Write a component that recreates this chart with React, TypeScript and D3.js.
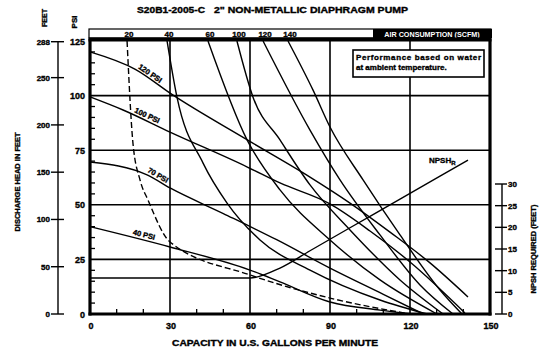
import React from "react";
import * as d3 from "d3";

// ---------- data ----------
const chartCode = "S20B1-2005-C";
const chartTitle = '2" NON-METALLIC DIAPHRAGM PUMP';
const xTitle = "CAPACITY IN U.S. GALLONS PER MINUTE";
const leftTitle = "DISCHARGE HEAD IN FEET";
const rightTitle = "NPSH REQUIRED (FEET)";
const noteLines = ["Performance based on water", "at ambient temperature."];
const airTitle = "AIR CONSUMPTION (SCFM)";

const flowTicks = [0, 30, 60, 90, 120, 150];
const flowMinorTicks = [10, 20, 40, 50, 70, 80, 100, 110, 130, 140];
const psiTicks = [0, 25, 50, 75, 100, 125];
const psiMinorTicks = [5, 10, 15, 20, 30, 35, 40, 45, 55, 60, 65, 70, 80, 85, 90, 95, 105, 110, 115, 120];
const feetTicks = [0, 50, 100, 150, 200, 250, 288];
const npshTicks = [0, 5, 10, 15, 20, 25, 30];

// head curves: [gpm, psi]
const pressureLabels = ["120 PSI", "100 PSI", "70 PSI", "40 PSI"];
const head120: [number, number][] = [[0, 120], [17, 112], [31, 100.3], [59, 79.7], [82.5, 62.7], [97.5, 50.8], [112.5, 37.5], [127.5, 23.4], [141.75, 7.8]];
const head100: [number, number][] = [[0, 99.4], [12.4, 93.4], [30, 83.3], [59, 67.3], [71.25, 60], [90, 50.4], [105, 38], [120, 23.8], [140.6, 0.5]];
const head70: [number, number][] = [[0, 69.6], [21.4, 63.7], [30, 57.7], [50, 46], [70, 34], [90, 21], [110, 9], [125, 0]];
const head40: [number, number][] = [[0, 40], [30, 30.7], [60, 20.1], [71.25, 14.7], [90, 5.5], [108.75, 1.8], [121, 0]];

// air consumption lines: [gpm, psi]
const airLabels = ["20", "40", "60", "100", "120", "140"];
const air20: [number, number][] = [[13.9, 125], [16.1, 78.3], [18.75, 61.4], [21.75, 52.2], [30, 33], [60, 17.9], [90, 7.3], [120, 0]];
const air40: [number, number][] = [[28.9, 125], [32.6, 99.4], [42.4, 69.1], [51.4, 50.8], [63.75, 33.9], [82.5, 20.1], [108.75, 6.4], [126.4, 0]];
const air60: [number, number][] = [[44.25, 125], [58.9, 79.7], [71.25, 56.8], [90, 33.9], [108.75, 15.6], [130.1, 0]];
const air100: [number, number][] = [[55.1, 125], [61.1, 99.4], [71.25, 79.7], [82.5, 59.1], [97.5, 38.5], [116.25, 15.6], [132.4, 0]];
const air120: [number, number][] = [[64.9, 125], [82.5, 84.2], [93.75, 61.4], [108.75, 36.2], [123.75, 13.3], [136.1, 0]];
const air140: [number, number][] = [[74.25, 125], [83.6, 102.6], [90, 85.6], [102.4, 61.4], [116.25, 36.2], [131.25, 11], [139.5, 0]];

// NPSH required: [gpm, feet]
const npshLabel = "NPSH";
const npsh: [number, number][] = [[0, 8.3], [60, 8.3], [71.25, 10.6], [82.5, 14.6], [97.5, 19.9], [116.25, 26.5], [131.25, 31.8], [141.75, 35.5]];

const headCurves = [head120, head100, head70, head40];
const airCurves = [air20, air40, air60, air100, air120, air140];

// ---------- layout ----------
const W = 540, H = 354;
const L = 90, R = 490, T = 41, B = 314;
const FONT = "'Liberation Sans', Arial, Helvetica, sans-serif";
const NARROW = "'Liberation Sans Narrow', 'Arial Narrow', 'Liberation Sans', sans-serif";

const x = d3.scaleLinear().domain([0, 150]).range([L, R]);
const yP = d3.scaleLinear().domain([0, 125]).range([B, T]);
const yF = d3.scaleLinear().domain([0, 288.75]).range([B, T]);
const yN = d3.scaleLinear().domain([0, 30]).range([B, 184]);

const lineP = d3.line<[number, number]>().x(d => x(d[0])).y(d => yP(d[1])).curve(d3.curveMonotoneX);
const lineN = d3.line<[number, number]>().x(d => x(d[0])).y(d => yN(d[1])).curve(d3.curveMonotoneX);

function labelAt(curve: [number, number][], g: number) {
  const i = d3.bisector((d: [number, number]) => d[0]).right(curve, g) - 1;
  const a = curve[Math.max(0, i)], b = curve[Math.min(curve.length - 1, i + 1)];
  const t = b[0] === a[0] ? 0 : (g - a[0]) / (b[0] - a[0]);
  const psi = a[1] + (b[1] - a[1]) * t;
  const ang = (Math.atan2(yP(b[1]) - yP(a[1]), x(b[0]) - x(a[0])) * 180) / Math.PI;
  return { px: x(g), py: yP(psi), ang };
}

const heavy = { stroke: "#000", strokeWidth: 0.35 } as const;

export default function App() {
  const labelFlows = [22, 21, 25, 20];
  return (
    <svg width={W} height={H} style={{ position: "absolute", left: 0, top: 0, background: "#fff" }} fontFamily={FONT} fontWeight="bold">
      <rect x={0} y={0} width={W} height={H} fill="#fff" />
      {/* title */}
      <text x={137} y={13} fontSize={8.8} textLength={68} lengthAdjust="spacingAndGlyphs" {...heavy}>{chartCode}</text>
      <text x={214} y={13} fontSize={8.8} textLength={194} lengthAdjust="spacingAndGlyphs" {...heavy}>{chartTitle}</text>

      {/* top band */}
      <rect x={L - 1} y={29} width={R - L + 2} height={9} fill="#fff" stroke="#000" strokeWidth={1.2} />
      <rect x={373} y={29} width={R - 373 + 2} height={9} fill="#000" />
      <text x={432} y={36.5} fontSize={7.2} fill="#fff" textAnchor="middle">{airTitle}</text>
      {airCurves.map((c, i) => (
        <text key={"al" + i} x={x(c[0][0]) + 2} y={36.6} fontSize={8} textAnchor="middle" {...heavy}>{airLabels[i]}</text>
      ))}

      {/* grid */}
      {flowTicks.slice(1, -1).map(v => (
        <line key={"gx" + v} x1={x(v)} x2={x(v)} y1={T} y2={B} stroke="#000" strokeWidth={1.6} />
      ))}
      {psiTicks.slice(1, -1).map(v => (
        <line key={"gy" + v} x1={L} x2={R} y1={yP(v)} y2={yP(v)} stroke="#000" strokeWidth={1.6} />
      ))}
      {/* minor ticks */}
      {psiMinorTicks.map(v => (
        <line key={"mp" + v} x1={L} x2={L + 5} y1={yP(v)} y2={yP(v)} stroke="#000" strokeWidth={1.3} />
      ))}
      {flowMinorTicks.map(v => (
        <line key={"mf" + v} x1={x(v)} x2={x(v)} y1={B} y2={B - 5} stroke="#000" strokeWidth={1.3} />
      ))}

      {/* curves */}
      <g fill="none" stroke="#000" strokeWidth={1.4}>
        {headCurves.map((c, i) => <path key={"h" + i} d={lineP(c) || ""} />)}
        {airCurves.map((c, i) => (
          <path key={"a" + i} d={lineP(c) || ""} strokeDasharray={i === 0 ? "6,3" : undefined} />
        ))}
        <path d={lineN(npsh) || ""} />
      </g>

      {/* curve labels */}
      {headCurves.map((c, i) => {
        const p = labelAt(c, labelFlows[i]);
        return (
          <text key={"hl" + i} transform={`translate(${p.px},${p.py - 3}) rotate(${p.ang})`} fontSize={7.5} textAnchor="middle" {...heavy}>
            {pressureLabels[i]}
          </text>
        );
      })}
      <text x={x(npsh[npsh.length - 1][0]) - 39} y={yN(npsh[npsh.length - 1][1]) + 3} fontSize={8} {...heavy}>
        {npshLabel}
        <tspan fontSize={6} dy={2}>R</tspan>
      </text>

      {/* note box */}
      <rect x={353} y={50} width={131} height={27} fill="#fff" stroke="#000" strokeWidth={1.6} />
      {noteLines.map((t, i) => (
        <text key={"n" + i} x={356} y={60 + i * 10} fontSize={8} {...heavy} fontFamily={NARROW} textLength={i === 0 ? 125 : undefined}>{t}</text>
      ))}

      {/* frame */}
      <line x1={L} x2={L} y1={T - 2} y2={B + 1.5} stroke="#000" strokeWidth={3.2} />
      <line x1={R} x2={R} y1={T - 2} y2={B + 1.5} stroke="#000" strokeWidth={3.2} />
      <line x1={L - 1.5} x2={R + 1.5} y1={B} y2={B} stroke="#000" strokeWidth={3.2} />
      <line x1={L - 1.5} x2={R + 1.5} y1={T - 1.5} y2={T - 1.5} stroke="#000" strokeWidth={4} />

      {/* x axis labels */}
      {flowTicks.map(v => (
        <text key={"xt" + v} x={x(v) + 1} y={329} fontSize={9} textAnchor="middle" {...heavy}>{v}</text>
      ))}
      <text x={172} y={346} fontSize={8.5} textLength={206} lengthAdjust="spacingAndGlyphs" {...heavy}>{xTitle}</text>

      {/* inner psi labels */}
      {psiTicks.map(v => (
        <text key={"pt" + v} x={85} y={yP(v) + 3.5} fontSize={9} textAnchor="end" {...heavy}>{v}</text>
      ))}
      {/* outer feet axis */}
      <line x1={58} x2={58} y1={yF(288)} y2={B} stroke="#000" strokeWidth={1.4} />
      {feetTicks.map(v => (
        <g key={"ft" + v}>
          <line x1={51} x2={64} y1={yF(v)} y2={yF(v)} stroke="#000" strokeWidth={1.4} />
          <text x={50} y={yF(v) + 3} fontSize={8} textAnchor="end" {...heavy}>{v}</text>
        </g>
      ))}
      <text transform="translate(47,18) rotate(-90)" fontSize={7} textAnchor="middle" {...heavy}>FEET</text>
      <text transform="translate(77,22) rotate(-90)" fontSize={8} textAnchor="middle" {...heavy}>PSI</text>
      <text transform="translate(20,182) rotate(-90)" fontSize={7.5} textAnchor="middle" {...heavy}>{leftTitle}</text>

      {/* right NPSH axis */}
      <line x1={502} x2={502} y1={yN(30)} y2={B} stroke="#000" strokeWidth={1.4} />
      {npshTicks.map(v => (
        <g key={"nt" + v}>
          <line x1={495} x2={507} y1={yN(v)} y2={yN(v)} stroke="#000" strokeWidth={1.4} />
          <text x={508} y={yN(v) + 3} fontSize={8} {...heavy}>{v}</text>
        </g>
      ))}
      <text transform="translate(536,249) rotate(-90)" fontSize={7.5} textAnchor="middle" {...heavy}>{rightTitle}</text>
    </svg>
  );
}
